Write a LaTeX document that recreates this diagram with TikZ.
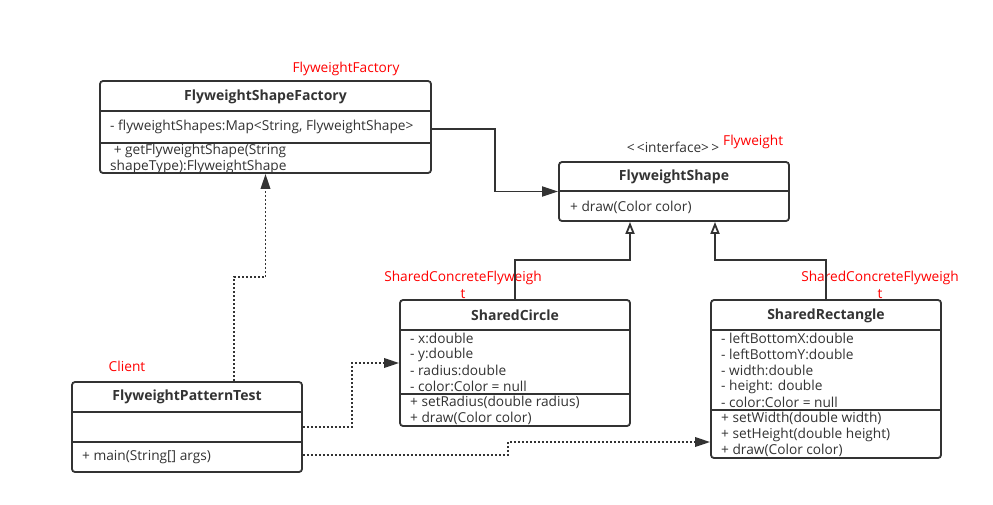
\documentclass[tikz,border=0pt]{standalone}
\usepackage{fontspec}
\setmainfont{Open Sans}
\usetikzlibrary{arrows.meta,calc}
\definecolor{ln}{HTML}{333333}
\definecolor{tx}{HTML}{333333}
\definecolor{rd}{HTML}{FF0000}
\tikzset{
  umlbox/.style={draw=ln,line width=1.8pt,rounded corners=3pt,fill=white,inner sep=0pt},
  divline/.style={draw=ln,line width=1.8pt},
  hdr/.style={text=tx,font=\fontsize{14}{16}\selectfont\bfseries,inner sep=0pt},
  mem/.style={text=tx,font=\fontsize{13.7}{16}\selectfont,inner sep=0pt,anchor=west},
  role/.style={text=rd,font=\fontsize{13.7}{16}\selectfont,inner sep=0pt},
  assoc/.style={draw=ln,line width=1.8pt,-{Triangle[length=16pt,width=10pt]}},
  inherit/.style={draw=ln,line width=1.8pt,-{Triangle[open,length=12pt,width=9pt,fill=white]}},
  dep/.style={draw=ln,line width=1.8pt,dash pattern=on 2pt off 2pt,-{Triangle[length=15pt,width=9.5pt]}}
}
\begin{document}
\begin{tikzpicture}[x=1pt,y=-1pt]
\useasboundingbox (0,0) rectangle (993,504);
% boxes
\node[umlbox,minimum width=331pt,minimum height=92pt] (fac) at (265.5,127) {};
\node[umlbox,minimum width=230pt,minimum height=59pt] (shape) at (674,191.5) {};
\node[umlbox,minimum width=230pt,minimum height=126pt] (circ) at (515,363) {};
\node[umlbox,minimum width=230pt,minimum height=158pt] (rect) at (826,379) {};
\node[umlbox,minimum width=230pt,minimum height=90pt] (fpt) at (187,427) {};
% dividers
\draw[divline] (fac.west |- 0,111) -- (fac.east |- 0,111);
\draw[divline] (fac.west |- 0,143) -- (fac.east |- 0,143);
\draw[divline] (shape.west |- 0,191) -- (shape.east |- 0,191);
\draw[divline] (circ.west |- 0,330) -- (circ.east |- 0,330);
\draw[divline] (circ.west |- 0,394) -- (circ.east |- 0,394);
\draw[divline] (rect.west |- 0,330) -- (rect.east |- 0,330);
\draw[divline] (rect.west |- 0,410) -- (rect.east |- 0,410);
\draw[divline] (fpt.west |- 0,412) -- (fpt.east |- 0,412);
\draw[divline] (fpt.west |- 0,442) -- (fpt.east |- 0,442);
% headers
\node[hdr] (facH) at (265.5,97) {FlyweightShapeFactory};
\node[hdr] (shapeH) at (674,176.5) {FlyweightShape};
\node[hdr] (circH) at (515,315.5) {SharedCircle};
\node[hdr] (rectH) at (826,315.5) {SharedRectangle};
\node[hdr] (fptH) at (187,397) {FlyweightPatternTest};
% members
\node[mem] (f1) at (110,127) {- flyweightShapes:Map{<}String, FlyweightShape{>}};
\node[mem] (f2) at (110,150.5) {\ + getFlyweightShape(String};
\node[mem] (f3) at (110,166.5) {shapeType):FlyweightShape};
\node[mem] (s1) at (570,207) {+ draw(Color color)};
\node[mem] (c1) at (410,338.5) {- x:double};
\node[mem] (c2) at (410,354.5) {- y:double};
\node[mem] (c3) at (410,370.5) {- radius:double};
\node[mem] (c4) at (410,386.5) {- color:Color = null};
\node[mem] (c5) at (410,402.5) {+ setRadius(double radius)};
\node[mem] (c6) at (410,418.5) {+ draw(Color color)};
\node[mem] (r1) at (721,338.5) {- leftBottomX:double};
\node[mem] (r2) at (721,354.5) {- leftBottomY:double};
\node[mem] (r3) at (721,370.5) {- width:double};
\node[mem] (r4) at (721,386.5) {- height: double};
\node[mem] (r5) at (721,402.5) {- color:Color = null};
\node[mem] (r6) at (721,418.5) {+ setWidth(double width)};
\node[mem] (r7) at (721,434.5) {+ setHeight(double height)};
\node[mem] (r8) at (721,450.5) {+ draw(Color color)};
\node[mem] (p1) at (82,457.5) {+ main(String[] args)};
% stereotype and roles
\node[mem,anchor=center] (ster) at (673,147.5) {{<}\,{<}interface{>}\,{>}};
\node[role,anchor=west] (rFly) at (723,141.5) {Flyweight};
\node[role] (rFac) at (346,68.5) {FlyweightFactory};
\node[role] (rC1) at (463,277.5) {SharedConcreteFlyweigh};
\node[role] (rC2) at (463,294) {t};
\node[role] (rR1) at (880,277.5) {SharedConcreteFlyweigh};
\node[role] (rR2) at (880,294) {t};
\node[role] (rCl) at (127,366.5) {Client};
% connectors
\draw[assoc] ($(fac.east)+(0,2)$) -- ++(63,0) |- (shape.west);
\draw[inherit] (circ.north) -- ++(0,-39) -| ($(shape.south)+(-44,0)$);
\draw[inherit] (rect.north) -- ++(0,-39) -| ($(shape.south)+(41,0)$);
\draw[dep] ($(fpt.north)+(47,0)$) -- ++(0,-104) -| (fac.south);
\draw[dep] (fpt.east) -- ++(49,0) |- (circ.west);
\draw[dep] ($(fpt.east)+(0,28)$) -- ++(205,0) |- ($(rect.west)+(0,63)$);
\end{tikzpicture}
\end{document}
